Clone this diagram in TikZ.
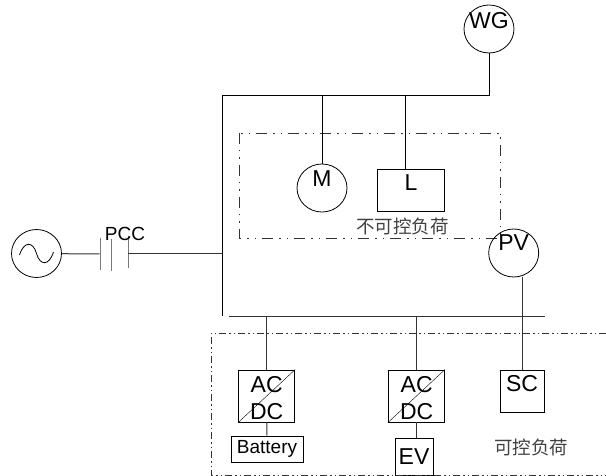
\documentclass[tikz,border=0pt]{standalone}
\usepackage{fontspec}
\setmainfont{Liberation Sans}
\newfontfamily\cjk{Noto Sans CJK SC}
\usetikzlibrary{shapes.geometric}
\tikzset{
  line/.style={line width=1pt, black!80},
  circ/.style={draw, line width=0.8pt, ellipse, minimum width=50pt, minimum height=48pt, inner sep=0pt},
  box/.style={draw, line width=0.9pt, rectangle, inner sep=0pt},
  plate/.style={draw, line, rectangle, minimum width=0pt, minimum height=32pt, inner sep=0pt},
  lbl/.style={inner sep=0pt, font=\fontsize{23}{26}\selectfont},
  small/.style={inner sep=0pt, font=\fontsize{19}{22}\selectfont},
  cjklbl/.style={inner sep=0pt, black!75, font=\cjk\fontsize{18.5}{22}\selectfont},
  frame/.style={line width=0.9pt, black!80, dash pattern=on 11pt off 6pt on 1.5pt off 6pt on 1.5pt off 6pt},
  framefine/.style={line width=0.8pt, black!80, dash pattern=on 7pt off 3pt on 1.5pt off 3pt on 1.5pt off 3pt},
}
\begin{document}
\begin{tikzpicture}[x=1pt, y=-1pt]
  \useasboundingbox (0,0) rectangle (606,476);

  % --- Source and PCC ---
  \node[circ] (src) at (36.5,253.5) {};
  \draw[line width=0.8pt] (19.5,255) .. controls (24,241) and (33,241) .. (36.5,253.5)
    .. controls (40,266) and (49,266) .. (53.5,252);
  \node[plate] (pcca) at (100,254) {};
  \node[plate] (pccb) at (111,255) {};
  \node[plate] (pccc) at (128,252) {};
  \node[small] (pcc) at (125,234) {PCC};

  % --- Buses ---
  \coordinate (bustop) at (222,96);
  \coordinate (busend) at (222,316);
  \coordinate (lbusl) at (229,317);
  \coordinate (lbusr) at (545,317);
  \draw[line] (lbusl) -- (lbusr);

  % --- WG, M, L ---
  \node[circ] (wg) at (489,29) {};
  \node[lbl] (wgtext) at (489,21) {WG};
  \node[circ] (m) at (322,188) {};
  \node[lbl] (mtext) at (322,179) {M};
  \node[box, minimum width=67pt, minimum height=42pt] (l) at (410.5,190) {};
  \node[lbl] (ltext) at (411,183) {L};
  \node[cjklbl] (fixed) at (402.5,226) {不可控负荷};
  \draw[frame] (239,133) rectangle (500,238);

  % --- PV and SC ---
  \node[circ] (pv) at (513.7,253) {};
  \node[lbl] (pvtext) at (513.7,243) {PV};
  \node[box, minimum width=44pt, minimum height=42pt] (sc) at (522,391) {};
  \node[lbl] (sctext) at (522,384) {SC};

  % --- Converters ---
  \node[box, minimum width=56pt, minimum height=52pt] (conva) at (266.7,396) {};
  \node[box, minimum width=56pt, minimum height=52pt] (convb) at (416.5,396) {};
  \node[lbl] (acone) at (266.7,385) {AC};
  \node[lbl] (dcone) at (266.7,412) {DC};
  \node[lbl] (actwo) at (416.7,385) {AC};
  \node[lbl] (dctwo) at (416.7,412) {DC};
  \draw (conva.south west) -- (conva.north east);
  \draw (convb.south west) -- (convb.north east);

  % --- Battery and EV ---
  \node[box, small, minimum width=72pt, minimum height=26pt] (bat) at (267,449) {Battery};
  \node[box, lbl, minimum width=38pt, minimum height=37pt] (ev) at (414,456.5) {EV};
  \node[cjklbl] (ctrl) at (531,447) {可控负荷};
  \draw[framefine] (606,333) -- (211,333) -- (211,475) -- (606,475);

  % --- Connectors ---
  \draw[line] (src) -- (pcca);
  \draw[line] (pccc |- src) -- (busend |- src);
  \draw[line, black] (wg) |- (bustop) -- (busend);
  \draw[line, black] (m) -- (m |- bustop);
  \draw[line, black] (l.north -| 405.7,0) -- (405.7,96);
  \draw[line] (conva) -- (conva |- lbusl);
  \draw[line] (convb) -- (convb |- lbusl);
  \draw[line] (sc) -- (sc |- pv.south);
  \draw[line] (conva) -- (bat);
  \draw[line] (convb.south) -- (convb.south |- ev.north);

\end{tikzpicture}
\end{document}
